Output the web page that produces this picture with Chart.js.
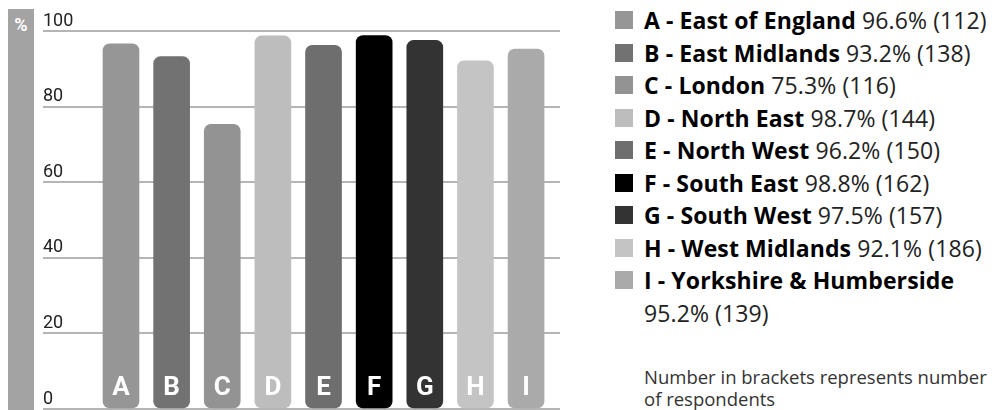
<!DOCTYPE html>
<html>
<head>
<meta charset="utf-8">
<script src="https://cdn.jsdelivr.net/npm/chart.js@4/dist/chart.umd.min.js"></script>
<style>
  body { margin: 0; background: #fff; font-family: Roboto, "DejaVu Sans", sans-serif; }
  .wrap { position: relative; width: 999px; height: 410px; overflow: hidden; }
  .ybar { position: absolute; left: 8px; top: 9px; width: 26px; height: 401px; background: #a3a3a3;
          color: #fff; font-weight: bold; font-size: 18px; text-align: center; line-height: 32px; }
  .chartbox { position: absolute; left: 0; top: 0; width: 580px; height: 410px; }
  .legend { position: absolute; left: 644px; top: 4px; width: 360px; font-family: "Open Sans", Roboto, sans-serif;
            font-size: 23px; line-height: 32.5px; color: #222; letter-spacing: 0.1px; }
  .legend .row { position: relative; }
  .legend .sw { position: absolute; left: -29px; top: 7px; width: 18px; height: 18px; }
  .legend b { color: #000; }
  .legend .val { white-space: nowrap; }
  .note { position: absolute; left: 644px; top: 366px; font-family: "Open Sans", Roboto, sans-serif;
          font-size: 18.5px; line-height: 22px; color: #333; }
</style>
</head>
<body>
<div class="wrap">
  <div class="ybar">%</div>
  <div class="chartbox"><canvas id="myChart"></canvas></div>
  <div class="legend" id="legend"></div>
  <div class="note">Number in brackets represents number<br>of respondents</div>
</div>
<script>
// data
const letters = ['A', 'B', 'C', 'D', 'E', 'F', 'G', 'H', 'I'];
const regions = ['East of England', 'East Midlands', 'London', 'North East', 'North West',
                 'South East', 'South West', 'West Midlands', 'Yorkshire & Humberside'];
const values = [96.6, 93.2, 75.3, 98.7, 96.2, 98.8, 97.5, 92.1, 95.2];
const counts = [112, 138, 116, 144, 150, 162, 157, 186, 139];
const colours = ['#969696', '#727272', '#939393', '#bdbdbd', '#6e6e6e', '#000000', '#333333', '#c4c4c4', '#aaaaaa'];
const yTicks = [0, 20, 40, 60, 80, 100];

// legend
let legend = document.getElementById('legend');
letters.forEach(function (l, i) {
    let row = document.createElement('div');
    row.className = 'row';
    row.innerHTML = '<span class="sw" style="background:' + colours[i] + '"></span>' +
        '<b>' + l + ' - ' + regions[i] + '</b> <span class="val">' + values[i].toFixed(1) + '% (' + counts[i] + ')</span>';
    legend.appendChild(row);
});

// letters inside bars
const barLetters = {
    id: 'barLetters',
    afterDatasetsDraw(chart) {
        const ctx = chart.ctx;
        const meta = chart.getDatasetMeta(0);
        const base = chart.scales.y.getPixelForValue(0);
        ctx.save();
        ctx.fillStyle = '#fff';
        ctx.font = 'bold 26px Roboto';
        ctx.textAlign = 'center';
        ctx.textBaseline = 'middle';
        meta.data.forEach(function (bar, i) {
            ctx.fillText(letters[i], bar.x, base - 21);
        });
        ctx.restore();
    }
};

const ctx = document.getElementById('myChart');
const myChart = new Chart(ctx, {
    type: 'bar',
    data: {
        datasets: [{
            data: values.map((v, i) => ({ x: i, y: v })),
            backgroundColor: colours,
            borderRadius: 7,
            borderSkipped: false,
            barThickness: 36
        }]
    },
    options: {
        responsive: true,
        maintainAspectRatio: false,
        animation: false,
        layout: { padding: { left: 43, top: 31, right: 20, bottom: 1 } },
        plugins: { legend: { display: false }, tooltip: { enabled: false } },
        scales: {
            x: {
                type: 'linear',
                offset: false,
                min: -1.54,
                max: 8.67,
                display: false
            },
            y: {
                min: 0,
                max: 100,
                afterBuildTicks: function (axis) {
                    axis.ticks = yTicks.map(v => ({ value: v }));
                },
                border: { display: false },
                grid: { color: '#b5b5b5', lineWidth: 2, drawTicks: false },
                ticks: {
                    mirror: true,
                    padding: 0,
                    labelOffset: -10,
                    color: '#222',
                    font: { family: 'Roboto', size: 18, lineHeight: 0.1 }
                }
            }
        }
    },
    plugins: [barLetters]
});
</script>
</body>
</html>
